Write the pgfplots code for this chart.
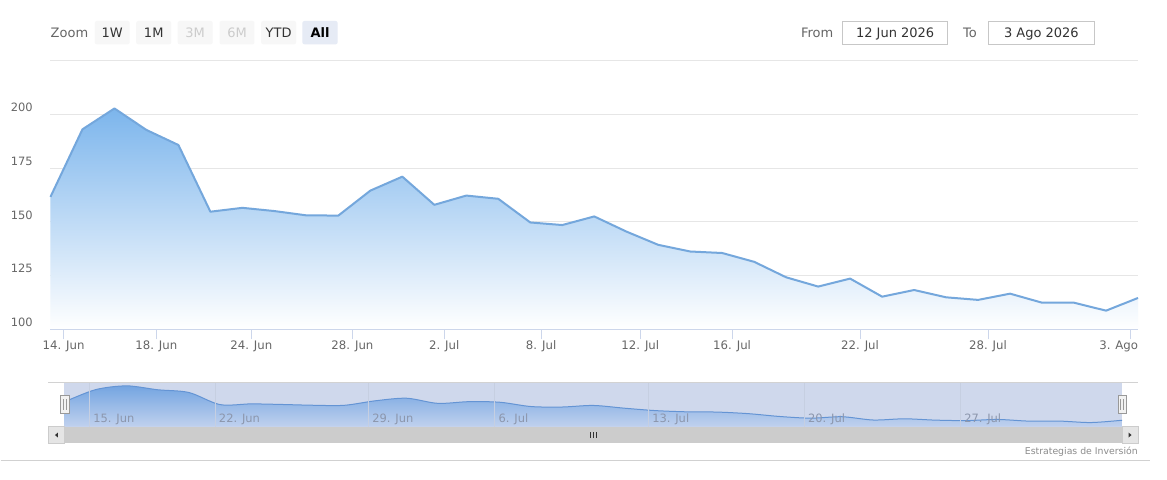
\documentclass[border=0pt]{standalone}
\usepackage{pgfplots}
\usepackage{pgfplotstable}
\pgfplotsset{compat=1.18}
\usepackage{fontspec}
\setmainfont{DejaVu Sans}
\definecolor{gridc}{HTML}{E6E6E6}
\definecolor{axisc}{HTML}{CCD6EB}
\definecolor{labc}{HTML}{666666}
\definecolor{serc}{RGB}{124,181,236}
\definecolor{linec}{RGB}{116,167,220}
\definecolor{maskc}{RGB}{207,216,236}
\definecolor{navtop}{RGB}{116,165,225}
\definecolor{navbot}{RGB}{192,209,238}
\definecolor{navline}{RGB}{100,148,212}
\definecolor{navgrid}{RGB}{188,198,220}
\definecolor{navlab}{RGB}{140,150,172}
\definecolor{btn}{HTML}{F7F7F7}
\definecolor{btnsel}{HTML}{E6EBF5}
\def\u{0.75pt}
\pgfplotstableread{
i v
0 161.6
1 193.0
2 202.7
3 192.7
4 185.7
5 154.7
6 156.5
7 155.0
8 153.0
9 152.9
10 164.5
11 171.0
12 157.9
13 162.2
14 160.7
15 149.7
16 148.5
17 152.5
18 145.5
19 139.3
20 136.2
21 135.5
22 131.4
23 124.2
24 119.9
25 123.6
26 115.2
27 118.3
28 114.9
29 113.7
30 116.6
31 112.4
32 112.4
33 108.7
34 114.6
}\data
\begin{document}
\begin{tikzpicture}
\fill[white] (0,0) rectangle ({1167*\u},{-480*\u});
% ---------- main chart
\begin{axis}[
  at={({50*\u},{-329.5*\u})}, anchor=south west,
  scale only axis, width={1088*\u}, height={269*\u},
  xmin=0, xmax=34, ymin=100, ymax=225, clip=false,
  axis line style={draw=none},
  xtick={0.41,3.31,6.28,9.44,12.31,15.34,18.44,21.31,25.31,29.31},
  xticklabels={14. Jun,18. Jun,24. Jun,28. Jun,2. Jul,8. Jul,12. Jul,16. Jul,22. Jul,28. Jul},
  extra x ticks={33.78}, extra x tick labels={3. Ago},
  extra x tick style={xticklabel style={xshift={-12.3*\u}}},
  xtick pos=left, xtick align=outside, ytick align=inside,
  major tick length={10*\u},
  xtick style={draw=axisc, line width=\u},
  ytick={100,125,150,175,200,225}, yticklabels={100,125,150,175,200,{}},
  ytick style={draw=none},
  ymajorgrids, major grid style={draw=gridc, line width=\u},
  xticklabel style={font=\fontsize{8.8}{10}\selectfont, text=labc, anchor=base, inner sep=0pt, yshift={-10*\u}},
  yticklabel style={font=\fontsize{8.6}{10}\selectfont, text=labc, anchor=base east, inner sep=0pt, xshift={-17.5*\u}, yshift={2.7*\u}},
]
\addplot[draw=none, top color=serc, bottom color=white] table[x=i,y=v] {\data} \closedcycle;
\addplot[draw=linec, line width={2*\u}, line join=round] table[x=i,y=v] {\data};
\draw[axisc, line width=\u] (axis cs:0,100) -- (axis cs:34,100);
\end{axis}
% ---------- navigator
\begin{axis}[
  at={({64*\u},{-426.7*\u})}, anchor=south west,
  scale only axis, width={1058*\u}, height={44.4*\u},
  xmin=0, xmax=34, ymin=98.5, ymax=212.2,
  axis line style={draw=none}, ytick=\empty, axis on top,
  axis background/.style={fill=maskc},
  xtick={0.81,4.85,9.78,13.84,18.78,23.79,28.81},
  xticklabels={15. Jun,22. Jun,29. Jun,6. Jul,13. Jul,20. Jul,27. Jul},
  xmajorgrids, major grid style={draw=navgrid!85!white, line width=\u},
  major tick length=0pt, xtick style={draw=none}, xtick pos=left,
  xticklabel style={font=\fontsize{8.6}{10}\selectfont, text=navlab, anchor=base west, inner sep=0pt, xshift={3.4*\u}, yshift={4.4*\u}},
]
\addplot[draw=none, smooth, tension=0.5, top color=navtop, bottom color=navbot] table[x=i,y=v] {\data} \closedcycle;
\addplot[draw=navline, line width=\u, smooth, tension=0.5] table[x=i,y=v] {\data};
\end{axis}
\begin{scope}[x=\u, y=-\u]
% navigator outline
\draw[gray!35, line width=\u] (48,382.3) -- (1138,382.3);
% scrollbar
\fill[gray!10] (48,427) rectangle (1138,443.5);
\fill[black!20] (64,427) rectangle (1122,443.5);
\filldraw[fill=black!10, draw=black!20, line width=\u] (48,427) rectangle (64,443.5);
\filldraw[fill=black!10, draw=black!20, line width=\u] (1122,427) rectangle (1138,443.5);
\fill[black!80] (54.5,435.2) -- (57.5,432.7) -- (57.5,437.7) -- cycle;
\fill[black!80] (1131.5,435.2) -- (1128.5,432.7) -- (1128.5,437.7) -- cycle;
\foreach \xx in {590.5,593.5,596.5} \draw[black!80, line width=\u] (\xx,432.5) -- (\xx,438.5);
% handles
\filldraw[fill=black!5, draw=black!40, line width=\u] (60.5,395.5) rectangle (68.8,414);
\draw[black!40, line width=\u] (63.3,399.5) -- (63.3,410) (66,399.5) -- (66,410);
\filldraw[fill=black!5, draw=black!40, line width=\u] (1118,395.5) rectangle (1126.3,414);
\draw[black!40, line width=\u] (1120.8,399.5) -- (1120.8,410) (1123.5,399.5) -- (1123.5,410);
% credits and bottom line
\node[anchor=base east, inner sep=0pt, text=black!45, font=\fontsize{7}{8}\selectfont] at (1138,454.3) {Estrategias de Inversión};
\draw[black!18, line width=\u] (0,460.5) -- (1150,460.5);
% range selector
\node[anchor=base west, inner sep=0pt, text=labc, font=\fontsize{9.75}{11}\selectfont] at (50,37.3) {Zoom};
\foreach \cx/\t/\fc/\tc in {111.8/1W/btn/black!80, 153.3/1M/btn/black!80, 194.8/3M/btn/black!20, 236.6/6M/btn/black!20, 278.3/YTD/btn/black!80}{
  \fill[\fc, rounded corners=1.5] (\cx-17.5,21) rectangle (\cx+17.5,44.3);
  \node[anchor=base, inner sep=0pt, text=\tc, font=\fontsize{9.75}{11}\selectfont] at (\cx,37.3) {\t};
}
\fill[btnsel, rounded corners=1.5] (302,21) rectangle (337.3,44.3);
\node[anchor=base, inner sep=0pt, text=black, font=\fontsize{9.75}{11}\selectfont\bfseries] at (319.7,37.3) {All};
\node[anchor=base west, inner sep=0pt, text=labc, font=\fontsize{9.75}{11}\selectfont] at (800.7,37.3) {From};
\draw[black!22, line width=\u] (842.5,21.7) rectangle (947.7,45);
\node[anchor=base, inner sep=0pt, text=black!80, font=\fontsize{9.75}{11}\selectfont] at (895,37.3) {12 Jun 2026};
\node[anchor=base west, inner sep=0pt, text=labc, font=\fontsize{9.75}{11}\selectfont] at (962.7,37.3) {To};
\draw[black!22, line width=\u] (988.3,21.7) rectangle (1094.3,45);
\node[anchor=base, inner sep=0pt, text=black!80, font=\fontsize{9.75}{11}\selectfont] at (1041.3,37.3) {3 Ago 2026};
\end{scope}
\end{tikzpicture}
\end{document}
